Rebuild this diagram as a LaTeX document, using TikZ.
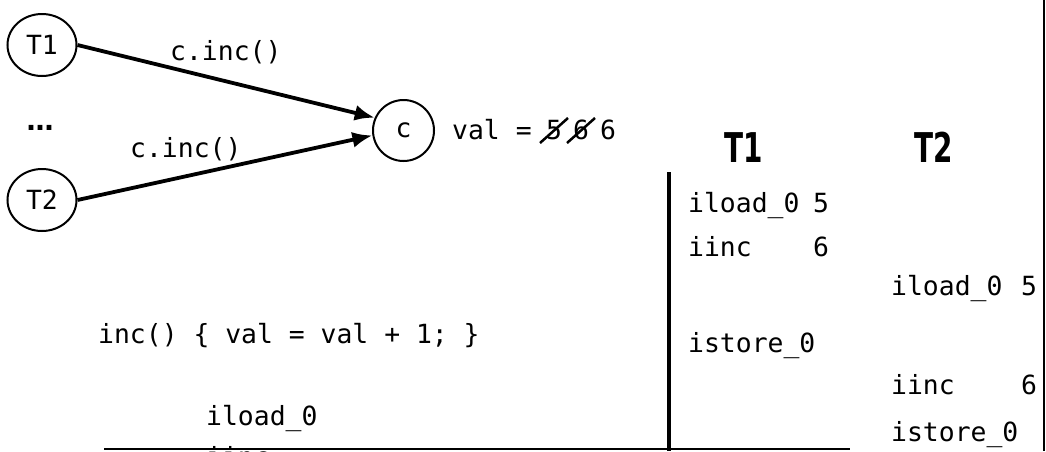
\documentclass[tikz,border=0pt]{standalone}
\usepackage{fontspec}
\setmonofont{DejaVu Sans Mono}
\newfontfamily\headfont{DejaVu Sans}
\usetikzlibrary{shapes.geometric,arrows.meta}
\begin{document}
\begin{tikzpicture}[x=1pt,y=-1pt,
  code/.style={font=\ttfamily\fontsize{26.4}{30}\selectfont, inner sep=0pt},
  thread/.style={draw, ellipse, line width=2pt, minimum width=69pt, minimum height=62pt, inner sep=0pt, font=\ttfamily\fontsize{26.4}{30}\selectfont},
  obj/.style={draw, circle, line width=2pt, minimum size=61pt, inner sep=0pt, font=\ttfamily\fontsize{26.4}{30}\selectfont},
  call/.style={line width=3.8pt, -{Latex[length=20pt,width=16pt]}},
  head/.style={font=\headfont\bfseries\fontsize{41}{45}\selectfont, inner sep=0pt},
  strike/.style={line width=2.5pt},
  rulethick/.style={line width=3.5pt}]
\clip (0,0) rectangle (1046,451);
% graph
\node[thread] (T1) at (42,45) {T1};
\node[thread] (T2) at (42,200) {T2};
\node[obj] (c) at (403.5,130.5) {c};
\draw[call] (T1.east) -- (c.156);
\draw[call] (T2.east) -- (c.189);
\node[code, anchor=base west] (l1) at (170,60) {c.inc()};
\node[code, anchor=base west] (l2) at (130,157) {c.inc()};
\node[font=\headfont\bfseries\fontsize{27}{30}\selectfont, inner sep=0pt, anchor=base] (dots) at (40,130) {…};
% value
\node[code, anchor=base west] (val) at (452,139) {val =};
\node[code, anchor=base] (v5) at (554,139) {5};
\node[code, anchor=base] (v6) at (581,139) {6};
\node[code, anchor=base] (v6b) at (608,139) {6};
\draw[strike] (540,143) -- (568,118);
\draw[strike] (567,143) -- (595,118);
% headings
\node[head, anchor=base] (h1) at (744,162) {\scalebox{0.68}[1]{T1}};
\node[head, anchor=base] (h2) at (934,162) {\scalebox{0.68}[1]{T2}};
% T1 column
\node[code, anchor=base west] (a1) at (688,212) {iload\_0};
\node[code, anchor=base west] (a1v) at (813,212) {5};
\node[code, anchor=base west] (a2) at (688,256) {iinc};
\node[code, anchor=base west] (a2v) at (813,256) {6};
\node[code, anchor=base west] (a3) at (688,352) {istore\_0};
% T2 column
\node[code, anchor=base west] (b1) at (891,295) {iload\_0};
\node[code, anchor=base west] (b1v) at (1021,295) {5};
\node[code, anchor=base west] (b2) at (891,394) {iinc};
\node[code, anchor=base west] (b2v) at (1021,394) {6};
\node[code, anchor=base west] (b3) at (891,441) {istore\_0};
% left code
\node[code, anchor=base west] (src) at (98,343) {inc() \{ val = val + 1; \}};
\node[code, anchor=base west] (s1) at (206,425) {iload\_0};
\node[code, anchor=base west] (s2) at (206,466) {iinc};
% rules
\draw[rulethick] (669,172) -- (669,451);
\draw[line width=2pt] (104,449) -- (850,449);
\draw[line width=1.5pt] (1044,0) -- (1044,451);
\end{tikzpicture}
\end{document}
